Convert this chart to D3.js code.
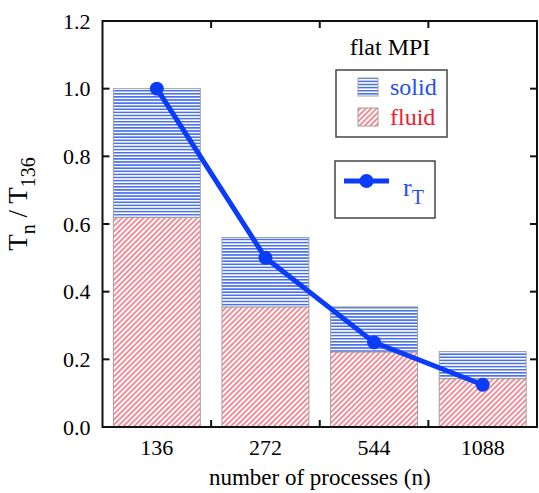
<!DOCTYPE html>
<html>
<head>
<meta charset="utf-8">
<script src="https://cdn.jsdelivr.net/npm/d3@7"></script>
<style>
  body { margin:0; background:#fff; }
  svg { display:block; font-family:"Liberation Serif", "DejaVu Serif", serif; }
</style>
</head>
<body>
<svg id="chart" width="539" height="493"></svg>
<script>
// data ---------------------------------------------
var categories = ['136','272','544','1088'];
var fluid = [0.62, 0.355, 0.222, 0.143];
var solid = [0.38, 0.205, 0.133, 0.080];
var rT = [1.0, 0.5, 0.25, 0.125];
var yTicks = [0, 0.2, 0.4, 0.6, 0.8, 1.0, 1.2];

var plotL = 102.5, plotR = 537, plotT = 21, plotB = 427;

var svg = d3.select('#chart');

var x = d3.scaleBand()
  .domain(categories)
  .range([plotL, plotR])
  .paddingInner(0.2)
  .paddingOuter(0.1);

var y = d3.scaleLinear()
  .domain([0, 1.2])
  .range([plotB, plotT]);

// patterns
var defs = svg.append('defs');

var pSolid = defs.append('pattern')
  .attr('id','hatch-solid')
  .attr('patternUnits','userSpaceOnUse')
  .attr('width',8).attr('height',3.1);
pSolid.append('rect').attr('width',8).attr('height',3.1).attr('fill','#fff');
pSolid.append('line')
  .attr('x1',0).attr('x2',8).attr('y1',0.8).attr('y2',0.8)
  .attr('stroke','#4a70ee').attr('stroke-width',1.6);

var pFluid = defs.append('pattern')
  .attr('id','hatch-fluid')
  .attr('patternUnits','userSpaceOnUse')
  .attr('width',3.8).attr('height',8)
  .attr('patternTransform','rotate(45)');
pFluid.append('rect').attr('width',3.8).attr('height',8).attr('fill','#fff');
pFluid.append('line')
  .attr('x1',1).attr('x2',1).attr('y1',0).attr('y2',8)
  .attr('stroke','#ee5666').attr('stroke-width',1.3);

// bars
var bars = svg.append('g');
categories.forEach(function(c, i){
  bars.append('rect')
    .attr('x', x(c)).attr('width', x.bandwidth())
    .attr('y', y(fluid[i])).attr('height', y(0) - y(fluid[i]))
    .attr('fill','url(#hatch-fluid)')
    .attr('stroke','#a0a0a0').attr('stroke-width',1);
  bars.append('rect')
    .attr('x', x(c)).attr('width', x.bandwidth())
    .attr('y', y(fluid[i] + solid[i])).attr('height', y(fluid[i]) - y(fluid[i] + solid[i]))
    .attr('fill','url(#hatch-solid)')
    .attr('stroke','#a0a0a0').attr('stroke-width',1);
});

// frame + ticks
var axisG = svg.append('g').attr('stroke','#111').attr('stroke-width',2);
axisG.append('rect')
  .attr('x',plotL).attr('y',plotT)
  .attr('width',plotR-plotL).attr('height',plotB-plotT)
  .attr('fill','none');

var tl = 7;
yTicks.forEach(function(t){
  axisG.append('line').attr('x1',plotL).attr('x2',plotL+tl).attr('y1',y(t)).attr('y2',y(t));
  if (t > 0 && t < 1.2) {
    axisG.append('line').attr('x1',plotR).attr('x2',plotR-tl).attr('y1',y(t)).attr('y2',y(t));
  }
});
var step = x.step();
categories.slice(0, -1).forEach(function(c){
  var bx = x(c) + x.bandwidth() + step*x.paddingInner()/2;
  axisG.append('line').attr('x1',bx).attr('x2',bx).attr('y1',plotB).attr('y2',plotB-tl);
  axisG.append('line').attr('x1',bx).attr('x2',bx).attr('y1',plotT).attr('y2',plotT+tl);
});

// tick labels
svg.append('g').selectAll('text')
  .data(yTicks).enter().append('text')
  .attr('x', plotL-12).attr('y', function(d){ return y(d); })
  .attr('dy','0.35em')
  .attr('text-anchor','end')
  .style('font-size','22px')
  .text(function(d){ return d3.format('.1f')(d); });

svg.append('g').selectAll('text')
  .data(categories).enter().append('text')
  .attr('x', function(d){ return x(d) + x.bandwidth()/2; })
  .attr('y', 455)
  .attr('text-anchor','middle')
  .style('font-size','22px')
  .text(function(d){ return d; });

// axis titles
svg.append('text')
  .attr('x', (plotL+plotR)/2).attr('y', 485)
  .attr('text-anchor','middle')
  .style('font-size','23px')
  .text('number of processes (n)');

var yl = svg.append('text')
  .attr('transform','translate(27,204) rotate(-90)')
  .attr('text-anchor','middle')
  .style('font-size','27px');
yl.append('tspan').text('T');
yl.append('tspan').attr('dy',8).style('font-size','20px').text('n');
yl.append('tspan').attr('dy',-8).text(' / T');
yl.append('tspan').attr('dy',8).style('font-size','20px').text('136');

// r_T line
var line = d3.line()
  .x(function(d,i){ return x(categories[i]) + x.bandwidth()/2; })
  .y(function(d){ return y(d); });

svg.append('path')
  .datum(rT)
  .attr('d', line)
  .attr('fill','none')
  .attr('stroke','#0a3cfa')
  .attr('stroke-width',5);

svg.append('g').selectAll('circle')
  .data(rT).enter().append('circle')
  .attr('cx', function(d,i){ return x(categories[i]) + x.bandwidth()/2; })
  .attr('cy', function(d){ return y(d); })
  .attr('r',7)
  .attr('fill','#0a3cfa');

// legends
svg.append('text')
  .attr('x',390).attr('y',55)
  .attr('text-anchor','middle')
  .style('font-size','24px')
  .text('flat MPI');

var lg = svg.append('g');
lg.append('rect')
  .attr('x',336).attr('y',70).attr('width',111).attr('height',67)
  .attr('fill','#fff').attr('stroke','#444').attr('stroke-width',1.5);
lg.append('rect')
  .attr('x',358).attr('y',78).attr('width',20).attr('height',18)
  .attr('fill','url(#hatch-solid)').attr('stroke','#a0a0a0');
lg.append('rect')
  .attr('x',358).attr('y',108).attr('width',20).attr('height',18)
  .attr('fill','url(#hatch-fluid)').attr('stroke','#a0a0a0');
lg.append('text')
  .attr('x',390).attr('y',95)
  .attr('fill','#1f4ff5')
  .style('font-size','24px')
  .text('solid');
lg.append('text')
  .attr('x',390).attr('y',125)
  .attr('fill','#ee1c2e')
  .style('font-size','24px')
  .text('fluid');

var lg2 = svg.append('g');
lg2.append('rect')
  .attr('x',335).attr('y',161).attr('width',100).attr('height',57)
  .attr('fill','#fff').attr('stroke','#444').attr('stroke-width',1.5);
lg2.append('line')
  .attr('x1',344).attr('x2',389).attr('y1',181).attr('y2',181)
  .attr('stroke','#0a3cfa').attr('stroke-width',5);
lg2.append('circle')
  .attr('cx',366.5).attr('cy',181).attr('r',7)
  .attr('fill','#0a3cfa');
var rt = lg2.append('text')
  .attr('x',403).attr('y',196)
  .attr('fill','#1f4ff5')
  .style('font-size','26px');
rt.append('tspan').text('r');
rt.append('tspan').attr('dy',8).style('font-size','20px').text('T');
</script>
</body>
</html>
